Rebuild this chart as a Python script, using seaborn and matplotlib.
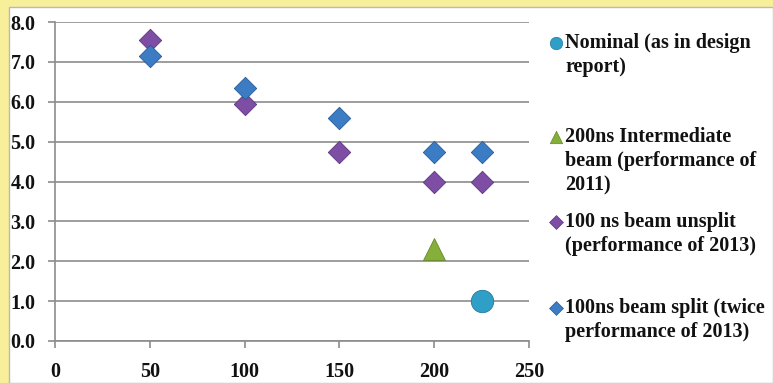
import matplotlib
matplotlib.use("Agg")
import matplotlib.pyplot as plt
import numpy as np
import pandas as pd
import seaborn as sns
from matplotlib.patches import Rectangle

# --- data -------------------------------------------------------------
series_names = [
    "Nominal (as in design report)",
    "200ns Intermediate beam (performance of 2011)",
    "100 ns beam unsplit (performance of 2013)",
    "100ns beam split (twice performance of 2013)",
]
legend_labels = [
    "Nominal (as in design\nreport)",
    "200ns Intermediate\nbeam (performance of\n2011)",
    "100 ns beam unsplit\n(performance of 2013)",
    "100ns beam split (twice\nperformance of 2013)",
]
nominal_x = [225]
nominal_y = [1.0]
intermediate_x = [200]
intermediate_y = [2.3]
unsplit_x = [50, 100, 150, 200, 225]
unsplit_y = [7.55, 5.95, 4.75, 4.0, 4.0]
split_x = [50, 100, 150, 200, 225]
split_y = [7.15, 6.35, 5.6, 4.75, 4.75]

x_ticks = [0, 50, 100, 150, 200, 250]
y_ticks = [0, 1, 2, 3, 4, 5, 6, 7, 8]
y_tick_labels = ["0.0", "1.0", "2.0", "3.0", "4.0", "5.0", "6.0", "7.0", "8.0"]

# --- styling ----------------------------------------------------------
colors = ["#2f9fc8", "#86ae3a", "#7d4ea3", "#3b7cc4"]
edge_colors = ["#1f7a9c", "#66892a", "#5c3580", "#285c98"]
markers = ["o", "^", "D", "D"]
marker_sizes = [260, 250, 130, 130]

frames = []
for name, xs, ys in zip(
    series_names,
    [nominal_x, intermediate_x, unsplit_x, split_x],
    [nominal_y, intermediate_y, unsplit_y, split_y],
):
    frames.append(pd.DataFrame({"x": xs, "y": ys, "series": name}))
df = pd.concat(frames, ignore_index=True)

sns.set_theme(style="white")
plt.rcParams["font.family"] = ["Liberation Serif", "DejaVu Serif"]
plt.rcParams["font.weight"] = "bold"

W, H = 773, 383
fig = plt.figure(figsize=(W / 100, H / 100), dpi=100)
fig.patch.set_facecolor("#f8ef9a")

# white chart panel over the yellow frame
panel = Rectangle((9 / W, 0), 1 - 9 / W, 1 - 7 / H, transform=fig.transFigure,
                  facecolor="white", edgecolor="#b9b9b9", linewidth=1.0, zorder=0)
fig.add_artist(panel)

ax = fig.add_axes([55 / W, 1 - 341 / H, (529 - 55) / W, (341 - 22) / H])
ax.set_facecolor("none")

for i, name in enumerate(series_names):
    sub = df[df["series"] == name]
    sns.scatterplot(data=sub, x="x", y="y", ax=ax, marker=markers[i],
                    s=marker_sizes[i], color=colors[i], edgecolor=edge_colors[i],
                    linewidth=0.6, legend=False, zorder=3 + i)

ax.set_xlim(0, 250)
ax.set_ylim(0, 8)
ax.set_xticks(x_ticks)
ax.set_xticklabels([str(t) for t in x_ticks])
ax.set_yticks(y_ticks)
ax.set_yticklabels(y_tick_labels)
ax.set_xlabel("")
ax.set_ylabel("")

grid_color = "#8c8c8c"
ax.yaxis.grid(True, color=grid_color, linewidth=1.2)
ax.xaxis.grid(False)
ax.set_axisbelow(True)
for side in ["top", "right"]:
    ax.spines[side].set_visible(False)
for side in ["left", "bottom"]:
    ax.spines[side].set_color(grid_color)
    ax.spines[side].set_linewidth(1.2)

ax.tick_params(axis="y", which="major", direction="out", length=5, width=1.2,
               color=grid_color, pad=9, labelsize=14.5, left=True)
ax.tick_params(axis="x", which="major", direction="out", length=5, width=1.2,
               color=grid_color, pad=10, labelsize=14.5, bottom=True)
for lab in ax.get_xticklabels() + ax.get_yticklabels():
    lab.set_fontweight("bold")
    lab.set_color("#111111")

# --- legend, drawn in figure pixel space ------------------------------
lax = fig.add_axes([0, 0, 1, 1])
lax.set_xlim(0, W)
lax.set_ylim(H, 0)
lax.axis("off")

entry_tops = [33, 127, 212, 298]
legend_marker_sizes = [80, 80, 50, 50]
for i, lab in enumerate(legend_labels):
    top = entry_tops[i]
    lax.scatter([556], [top + 10], marker=markers[i], s=legend_marker_sizes[i],
                color=colors[i], edgecolor=edge_colors[i], linewidth=0.5, zorder=3)
    lax.text(565, top, lab, ha="left", va="top", fontsize=14.5, fontweight="bold",
             color="#111111", linespacing=1.28)

fig.savefig("out.png", dpi=100, facecolor=fig.get_facecolor())
